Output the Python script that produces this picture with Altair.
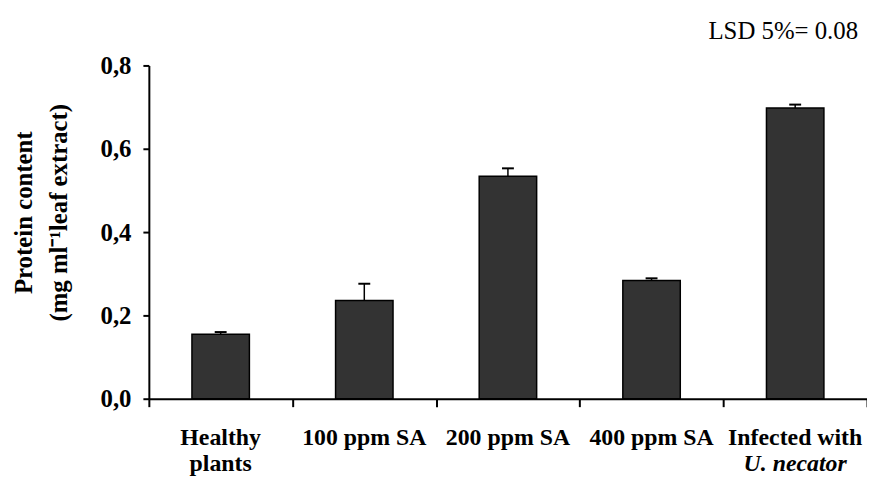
import altair as alt
import pandas as pd

line1 = ["Healthy", "100 ppm SA", "200 ppm SA", "400 ppm SA", "Infected with"]
line2 = ["plants", "", "", "", "U. necator"]
italic = [False, False, False, False, True]
values = [0.155, 0.236, 0.534, 0.284, 0.698]
errors = [0.005, 0.040, 0.019, 0.005, 0.008]
y_ticks = [0.0, 0.2, 0.4, 0.6, 0.8]
lsd_text = "LSD 5%= 0.08"
y_title = ["Protein content", "(mg ml\u207b\u00b9leaf extract)"]

df = pd.DataFrame({"cat": line1, "line2": line2, "ital": italic,
                   "value": values, "err": errors})

FONT = "Liberation Serif"
W, H = 724, 336

x_enc = alt.X("cat:N", sort=line1,
              scale=alt.Scale(paddingInner=0, paddingOuter=0),
              axis=alt.Axis(labels=False, title=None, tickBand="extent",
                            tickSize=8, tickWidth=2, domainWidth=2,
                            domainColor="black", tickColor="black"))
y_enc = alt.Y("value:Q",
              scale=alt.Scale(domain=[0, 0.8], nice=False, zero=True),
              axis=alt.Axis(values=y_ticks, grid=False,
                            labelExpr="replace(format(datum.value, '.1f'), '.', ',')",
                            labelFont=FONT, labelFontSize=25, labelFontWeight="bold",
                            labelColor="black", labelPadding=12,
                            tickSize=6, tickWidth=2, tickColor="black",
                            domainWidth=2, domainColor="black",
                            title=y_title, titleFont=FONT, titleFontSize=25,
                            titleFontWeight="bold", titleColor="black",
                            titleAngle=270, titleAlign="center",
                            titleBaseline="alphabetic", titleLineHeight=35,
                            titleX=-118, titleY=148))

base = alt.Chart(df)
xs = alt.X("cat:N", sort=line1)

bars = base.mark_bar(width=alt.RelativeBandSize(0.4), color="#333333",
                     stroke="black", strokeWidth=1.5).encode(x=x_enc, y=y_enc)

rules = base.transform_calculate(upper="datum.value + datum.err").mark_rule(
    color="black", strokeWidth=1.5).encode(x=xs, y="value:Q", y2="upper:Q")

caps = base.transform_calculate(upper="datum.value + datum.err").mark_tick(
    color="black", size=12, thickness=2, opacity=1).encode(x=xs, y="upper:Q")

lab1 = base.mark_text(font=FONT, fontSize=24, fontWeight="bold", color="black",
                      baseline="alphabetic", align="center").encode(
    x=xs, y=alt.value(383), text="cat:N")

lab2n = base.transform_filter("!datum.ital").mark_text(
    font=FONT, fontSize=24, fontWeight="bold", color="black",
    baseline="alphabetic", align="center").encode(
    x=xs, y=alt.value(409), text="line2:N")

lab2i = base.transform_filter("datum.ital").mark_text(
    font=FONT, fontSize=24, fontWeight="bold", fontStyle="italic", color="black",
    baseline="alphabetic", align="center").encode(
    x=xs, y=alt.value(409), text="line2:N")

lsd = alt.Chart(pd.DataFrame({"t": [lsd_text]})).mark_text(
    font=FONT, fontSize=25, color="black", align="right",
    baseline="alphabetic").encode(x=alt.value(715), y=alt.value(-27), text="t:N")

chart = alt.layer(bars, rules, caps, lab1, lab2n, lab2i, lsd).properties(
    width=W, height=H,
    autosize=alt.AutoSizeParams(type="none"),
    padding={"left": 142, "top": 56, "right": 0, "bottom": 76},
).configure_view(stroke=None)

chart.save("out.html", embed_options={"renderer": "svg", "actions": False})
